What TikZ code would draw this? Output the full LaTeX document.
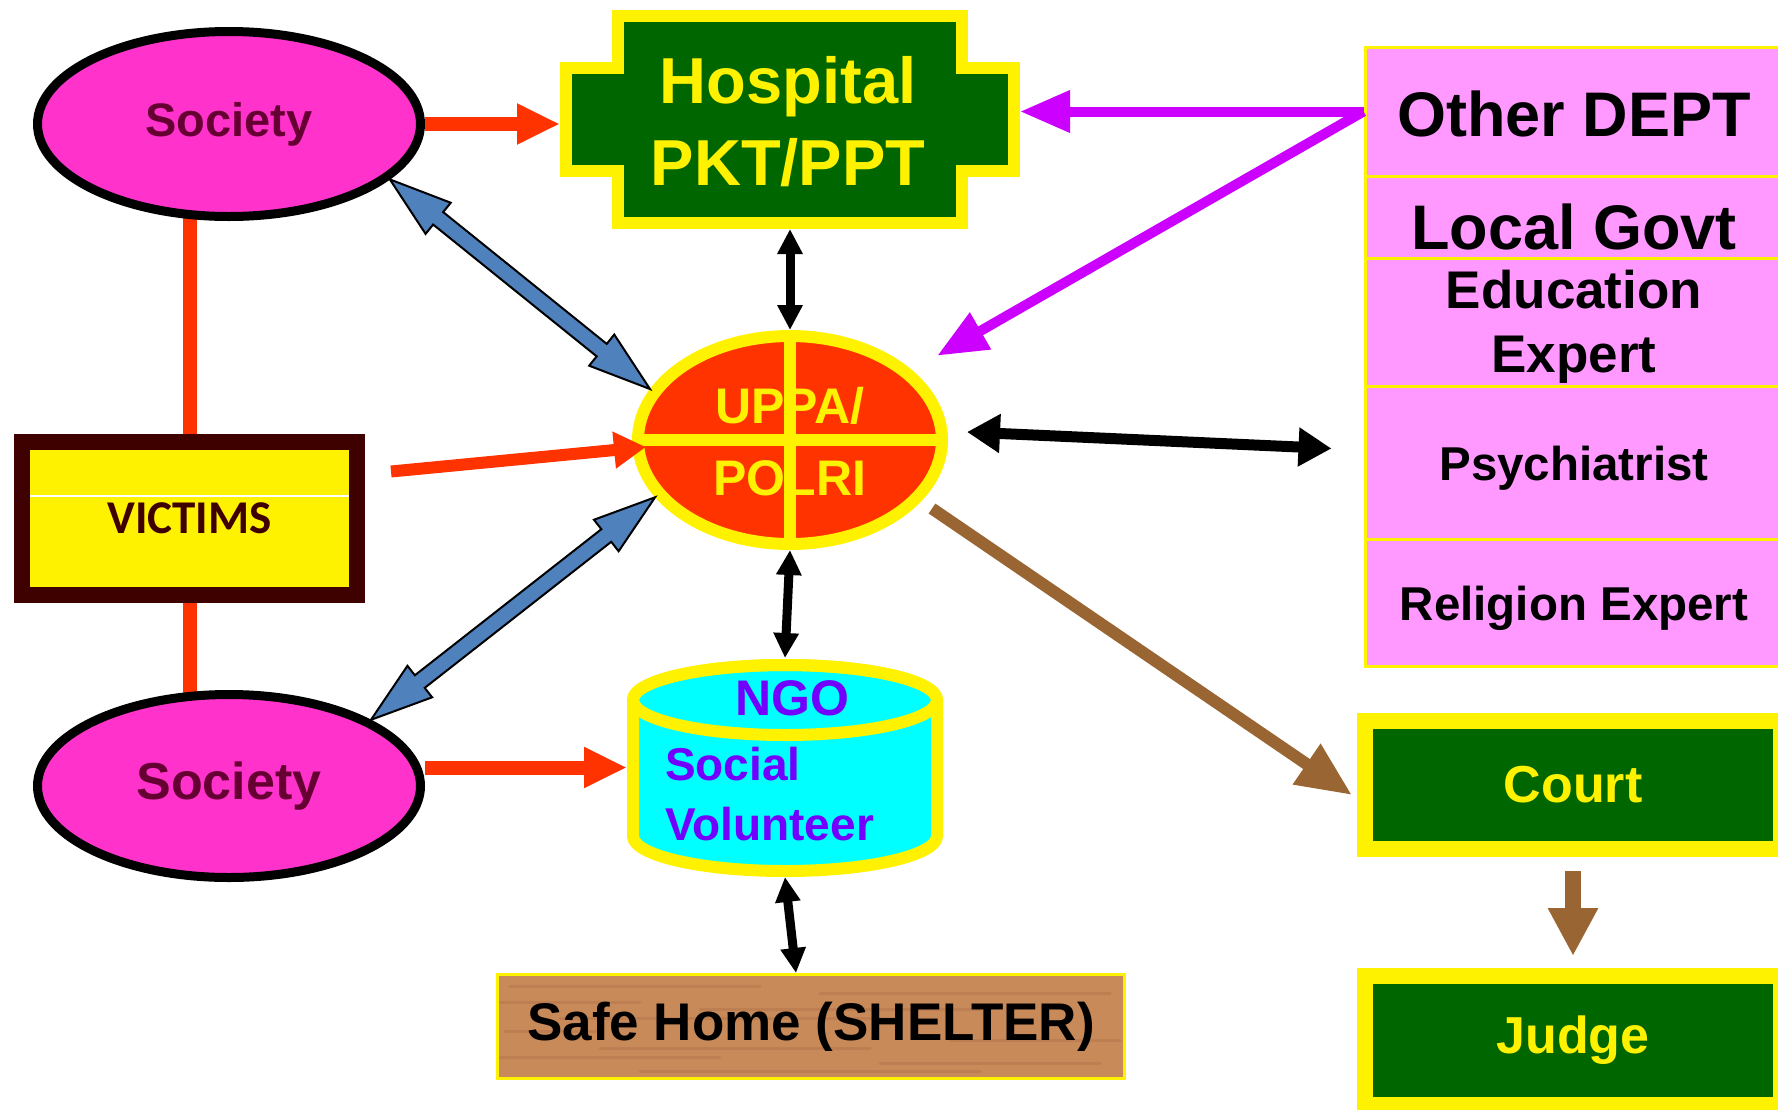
\documentclass[tikz,border=0pt]{standalone}
\usepackage{fontspec}
\setmainfont{Liberation Sans}
\newfontfamily\calibri{Carlito}
\usetikzlibrary{shapes.geometric,arrows.meta,calc,backgrounds}
\definecolor{socmag}{HTML}{FF33CC}
\definecolor{soctext}{HTML}{660033}
\definecolor{vicbrown}{HTML}{3F0000}
\definecolor{hosgreen}{HTML}{006600}
\definecolor{uppared}{HTML}{FF3300}
\definecolor{arrred}{HTML}{FF3300}
\definecolor{ngotext}{HTML}{7300FF}
\definecolor{ngocyan}{HTML}{00FFFF}
\definecolor{pinkrow}{HTML}{FF99FF}
\definecolor{purp}{HTML}{CC00FF}
\definecolor{brn}{HTML}{996633}
\definecolor{arrblue}{HTML}{4F81BD}
\definecolor{wood}{HTML}{C98A5A}
\definecolor{wooddark}{HTML}{A86C42}
\newcommand\fsz[1]{\fontsize{#1pt}{#1pt}\selectfont}
\newcommand\blockdbl[2]{%
  \pgfpointdiff{\pgfpointanchor{#1}{center}}{\pgfpointanchor{#2}{center}}%
  \pgfgetlastxy{\bdx}{\bdy}%
  \pgfmathsetmacro\bdang{atan2(\bdy,\bdx)}%
  \pgfmathsetmacro\bdlen{veclen(\bdx,\bdy)}%
  \pgfmathsetmacro\bdm{\bdlen-62}%
  \begin{scope}[shift={(#1)},rotate=\bdang]
    \draw[blueblock] (0,0) -- (62,20) -- (62,8) -- (\bdm,8) -- (\bdm,20) -- (\bdlen,0) -- (\bdm,-20) -- (\bdm,-8) -- (62,-8) -- (62,-20) -- cycle;
  \end{scope}}
\tikzset{
  socell/.style={ellipse, draw=black, line width=9pt, fill=socmag, minimum width=383pt, inner sep=0pt, text=soctext},
  rowbox/.style={rectangle, draw=yellow, line width=3pt, fill=pinkrow, minimum width=420pt, inner sep=0pt},
  rowtext/.style={anchor=base, text=black, inner sep=0pt},
  greenbox/.style={rectangle, draw=yellow, line width=16pt, fill=hosgreen, text=yellow, font=\bfseries\fsz{52}, minimum width=416pt, inner sep=0pt},
  redarrow/.style={draw=arrred, line width=14pt, -{Triangle[length=43pt,width=38pt]}},
  blackarrow/.style={draw=black, line width=9pt, {Triangle[length=25pt,width=24pt]}-{Triangle[length=25pt,width=24pt]}},
  purplearrow/.style={draw=purp, line width=10pt, -{Triangle[length=50pt,width=40pt]}},
  brownarrow/.style={draw=brn, line width=12pt, -{Triangle[length=55pt,width=46pt]}},
  redline/.style={draw=arrred, line width=14pt},
  blueblock/.style={fill=arrblue, draw=black, line width=2pt, line join=miter},
  ylabel/.style={anchor=base, text=yellow, inner sep=0pt}
}
\begin{document}
\begin{tikzpicture}[x=1pt,y=1pt]
\useasboundingbox (0,0) rectangle (1778,-1109);

% Society ellipses
\node[socell, minimum height=185pt, font=\bfseries\fsz{47}] (soc1) at (229,-124) {Society};
\node[socell, minimum height=183pt, font=\bfseries\fsz{52}] (soc2) at (229,-786) {Society};

% Victims
\node[draw=vicbrown, line width=16pt, fill=yellow, minimum width=335pt, minimum height=153pt, inner sep=0pt, font=\calibri\bfseries\fsz{47}, text=vicbrown] (vic) at (189.5,-518.5) {VICTIMS};
\draw[white, line width=1.2pt] ([shift={(16pt,22.5pt)}]vic.west) -- ([shift={(-16pt,22.5pt)}]vic.east);

% Hospital
\path[fill=hosgreen, draw=yellow, line width=12pt, line join=miter] (618,-16) -- (962,-16) -- (962,-68) -- (1014,-68) -- (1014,-171) -- (962,-171) -- (962,-223) -- (618,-223) -- (618,-171) -- (566,-171) -- (566,-68) -- (618,-68) -- cycle;
\node[rectangle, minimum width=460pt, minimum height=219pt, inner sep=0pt, outer sep=0pt] (hosp) at (790,-119.5) {};
\node[ylabel, font=\bfseries\fsz{65}] (hosp1) at (788,-103) {Hospital};
\node[ylabel, font=\bfseries\fsz{65}] (hosp2) at (788,-185) {PKT/PPT};

% UPPA / POLRI
\node[ellipse, draw=yellow, line width=12pt, fill=uppared, minimum width=304pt, minimum height=208pt, inner sep=0pt] (uppa) at (790,-440) {};
\draw[yellow, line width=12pt] (uppa.north) -- (uppa.south);
\draw[yellow, line width=12pt] (uppa.west) -- (uppa.east);
\node[ylabel, font=\bfseries\fsz{50}] (uppa1) at (790,-423) {UPPA/};
\node[ylabel, font=\bfseries\fsz{50}] (uppa2) at (790,-495) {POLRI};

% NGO cylinder
\path[fill=ngocyan, draw=yellow, line width=12pt] (633,-700) -- (633,-836) arc[start angle=180, end angle=360, x radius=152, y radius=35] -- (937,-700) arc[start angle=0, end angle=180, x radius=152, y radius=35] -- cycle;
\draw[yellow, line width=12pt] (785,-700) ellipse[x radius=152, y radius=35];
\node[rectangle, minimum width=316pt, minimum height=219pt, inner sep=0pt, outer sep=0pt] (ngo) at (785,-767.5) {};
\node[anchor=base, text=ngotext, inner sep=0pt, font=\bfseries\fsz{50}] (ngo1) at (792,-715) {NGO};
\node[anchor=base west, text=ngotext, inner sep=0pt, font=\bfseries\fsz{46}] (ngo2) at (665,-780) {Social};
\node[anchor=base west, text=ngotext, inner sep=0pt, font=\bfseries\fsz{46}] (ngo3) at (665,-840) {Volunteer};

% Safe home (wood-like fill)
\path[fill=wood] (497.5,-974.5) rectangle (1124.5,-1078.5);
\begin{scope}
\clip (497.5,-974.5) rectangle (1124.5,-1078.5);
\foreach \yy/\xa/\xb in {-986/510/760, -993/820/1110, -1002/500/640, -1009/700/980, -1018/560/900, -1031/505/600, -1040/950/1120, -1048/600/870, -1057/500/720, -1063/880/1100, -1071/640/980}
  \draw[wooddark, opacity=0.35, line width=3pt, line cap=round] (\xa,\yy) -- (\xb,\yy);
\end{scope}
\node[draw=yellow, line width=3pt, minimum width=627pt, minimum height=104pt, inner sep=0pt, font=\bfseries\fsz{53}] (safe) at (811,-1026.5) {Safe Home (SHELTER)};

% Right column
\node[rowbox, minimum height=129pt] (other) at (1575,-111.5) {};
\node[rowbox, minimum height=82pt] (govt) at (1575,-217) {};
\node[rowbox, minimum height=128pt] (edu) at (1575,-322) {};
\node[rowbox, minimum height=153pt] (psy) at (1575,-462.5) {};
\node[rowbox, minimum height=127pt] (rel) at (1575,-602.5) {};
\node[rowtext, font=\bfseries\fsz{63}] (otherT) at (1574,-136) {Other DEPT};
\node[rowtext, font=\bfseries\fsz{63}] (govtT) at (1574,-249) {Local Govt};
\node[rowtext, font=\bfseries\fsz{53}] (eduT1) at (1574,-308) {Education};
\node[rowtext, font=\bfseries\fsz{53}] (eduT2) at (1574,-372) {Expert};
\node[rowtext, font=\bfseries\fsz{47.5}] (psyT) at (1574,-480) {Psychiatrist};
\node[rowtext, font=\bfseries\fsz{47.5}] (relT) at (1574,-620) {Religion Expert};

% Court and Judge
\node[greenbox, minimum height=128pt] (court) at (1573,-785) {Court};
\node[greenbox, minimum height=129pt] (judge) at (1573,-1040.5) {Judge};

% background: white + red vertical lines
\begin{pgfonlayer}{background}
\fill[white] (0,0) rectangle (1778,-1109);
\draw[redline] (vic.north) -- (vic.north |- soc1.center);
\draw[redline] (vic.south) -- (vic.south |- soc2.center);
\end{pgfonlayer}

% Red arrows
\draw[redarrow] (soc1.east) -- (soc1.east -| hosp.west);
\draw[redarrow] (soc2.east |- ngo.west) -- (ngo.west);
\draw[draw=arrred, line width=12pt, -{Triangle[length=32pt,width=35pt]}] ([shift={(26pt,47pt)}]vic.east) -- ([shift={(14pt,-7pt)}]uppa.west);

% Black double arrows
\draw[blackarrow] (hosp.south) -- (uppa.north);
\draw[blackarrow] (uppa.south) -- (ngo.north);
\draw[blackarrow] (ngo.south) -- ([xshift=-15pt]safe.north);
\draw[draw=black, line width=11pt, {Triangle[length=33pt,width=37pt]}-{Triangle[length=33pt,width=37pt]}] ([shift={(19pt,8pt)}]uppa.east) -- ([shift={(-32pt,14pt)}]psy.west);

% Purple arrows
\draw[purplearrow] (other.west) -- (other.west -| hosp.east);
\draw[purplearrow, shorten >=29pt] (other.west) -- (uppa);

% Brown arrows
\draw[brownarrow, shorten <=13pt] (uppa.-25.6) -- ([shift={(-5pt,-10pt)}]court.west);
\draw[draw=brn, line width=16pt, -{Triangle[length=48pt,width=47pt]}, shorten <=14pt, shorten >=12pt] (court.south) -- (judge.north);

% Blue double block arrows
\coordinate (b1s) at (soc1.-19);
\coordinate (b1e) at (uppa.160);
\coordinate (b2s) at (uppa.203);
\coordinate (b2e) at (soc2.25);
\blockdbl{b1s}{b1e}
\blockdbl{b2s}{b2e}
\end{tikzpicture}
\end{document}
